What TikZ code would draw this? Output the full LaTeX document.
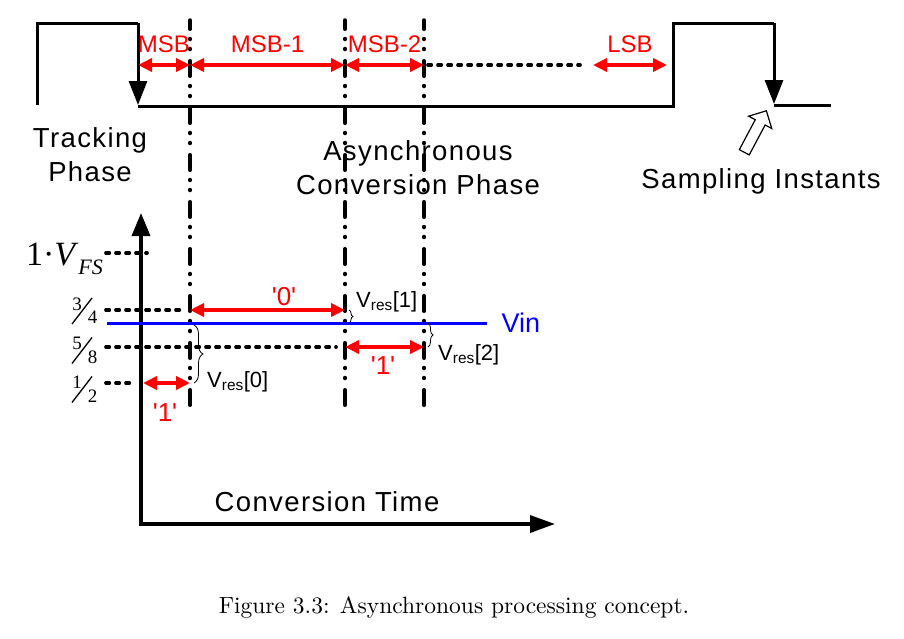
\documentclass[tikz,border=0pt]{standalone}
\usepackage{fontspec}
\newfontfamily\diagfont[LetterSpace=5]{Liberation Sans}
\newfontfamily\plainfont{Liberation Sans}
\newfontfamily\timesfont{Liberation Serif}
\newfontfamily\capfont{lmroman10-regular.otf}
\usetikzlibrary{arrows.meta, positioning, decorations.pathreplacing, shapes.arrows}

\tikzset{
  wave/.style={line width=3pt, line join=miter},
  fall/.style={-{Triangle[length=24pt,width=18pt]}},
  axis/.style={line width=3.5pt, line join=miter, {Triangle[length=23pt,width=18pt]}-{Triangle[length=25pt,width=17pt]}},
  slot/.style={line width=3.5pt, red, {Triangle[length=14pt,width=13pt]}-{Triangle[length=14pt,width=13pt]}},
  level/.style={line width=3.7pt, line cap=round, dash pattern=on 3.3pt off 6.7pt},
  bitline/.style={line width=3.5pt, line cap=round, dash pattern=on 15.5pt off 9.25pt on 1pt off 9pt on 1pt off 11.25pt, dash phase=6.25pt},
  lbl/.style={font=\diagfont\fontsize{27.5}{34}\selectfont, align=center, inner sep=0pt},
  bitlbl/.style={red, font=\plainfont\fontsize{24}{28}\selectfont, inner sep=0pt},
  res/.style={font=\plainfont\fontsize{22}{26}\selectfont, inner sep=0pt, anchor=west},
  resbrace/.style={decorate, decoration={brace, amplitude=#1}, line width=0.8pt},
  fracdigit/.style={font=\timesfont\fontsize{19}{19}\selectfont, inner sep=0pt},
}

% level fraction: centre y, numerator, denominator
\newcommand{\levelfrac}[3]{%
  \node[fracdigit] at (77,#1-6.5) {#2};
  \node[fracdigit] at (92.5,#1+7) {#3};
  \draw[line width=1.3pt] (72,#1+13.5) -- (92,#1-12.5);
}

\begin{document}
\begin{tikzpicture}[x=1pt, y=-1pt]
\useasboundingbox (0,0) rectangle (904,638);

% sampling clock
\coordinate (fall1) at (138,105);
\coordinate (fall2) at (774,104);
\draw[wave] (37,105) -- (37,23) -- (138,23);
\draw[wave, fall] (138,23) -- (fall1);
\draw[wave] (138,106) -- (673,106) -- (673,23) -- (774,23);
\draw[wave, fall] (774,23) -- (fall2);
\draw[wave] (774,105) -- (831,105);

% bit decision instants
\foreach \x/\n in {190/1, 345/2, 424/3}
  \draw[bitline] (\x,20) -- (\x,410);

% bit cycles
\coordinate (b0) at (138,65);
\coordinate (b1) at (190,65);
\coordinate (b2) at (345,65);
\coordinate (b3) at (424,65);
\coordinate (b4) at (580,65);
\coordinate (b5) at (593,65);
\coordinate (b6) at (667,65);
\draw[slot] (b0) -- (b1) node[bitlbl, midway, above=11pt] {MSB};
\draw[slot] (b1) -- (b2) node[bitlbl, midway, above=11pt] {MSB-1};
\draw[slot] (b2) -- (b3) node[bitlbl, midway, above=11pt] {MSB-2};
\draw[level] ([xshift=4pt]b3) -- (b4);
\draw[slot] (b5) -- (b6) node[bitlbl, midway, above=11pt] {LSB};

\node[lbl] (track) at (90,155) {Tracking\\Phase};
\node[lbl] (async) at (418,168) {Asynchronous\\Conversion Phase};
\node[lbl] (samp) at (761,181) {Sampling Instants};
\node[single arrow, draw, line width=1.2pt, fill=white, minimum height=47pt,
  single arrow head extend=7.5pt, inner xsep=0pt, inner ysep=5pt,
  rotate=62] (samparrow) at (754,134) {};

% voltage axes
\coordinate (O) at (141,524);
\draw[axis] (141,213) -- (O) -- (555,524);
\node[lbl] (ctime) at (327,502) {Conversion Time};

% reference levels
\draw[level] (106,253) -- (147,253);
\draw[level] (106,310) -- (182,310);
\draw[level] (106,347) -- (336,347);
\draw[level] (106,383) -- (135,383);
\node[font=\timesfont\fontsize{34}{34}\selectfont, inner sep=0pt, anchor=base east] (vfs) at (103,265)
  {1·\textit{V}\raisebox{-9pt}{\fontsize{22}{22}\selectfont\textit{FS}}};
\levelfrac{310.5}{3}{4}
\levelfrac{350}{5}{8}
\levelfrac{389}{1}{2}

% input
\draw[blue, line width=3pt] (107,323) -- (487,323)
  node[right=13pt, inner sep=0pt, font=\plainfont\fontsize{27}{30}\selectfont] (vin) {Vin};

% decisions
\draw[slot] (190,310) -- (345,310);
\node[bitlbl, font=\plainfont\fontsize{26}{30}\selectfont] (d1) at (284,297) {\textquotesingle 0\textquotesingle};
\draw[slot] (143,383) -- (190,383);
\node[bitlbl, font=\plainfont\fontsize{26}{30}\selectfont] (d0) at (165,413) {\textquotesingle 1\textquotesingle};
\draw[slot] (345,347) -- (424,347);
\node[bitlbl, font=\plainfont\fontsize{26}{30}\selectfont] (d2) at (383,366) {\textquotesingle 1\textquotesingle};

% residues
\draw[resbrace=9pt] (194,325) -- (194,383);
\node[res] (r0) at (207,382) {V\textsubscript{res}[0]};
\draw[resbrace=4pt] (349,310) -- (349,323);
\node[res] (r1) at (356,302) {V\textsubscript{res}[1]};
\draw[resbrace=5pt] (428,323) -- (428,347);
\node[res] (r2) at (438,355) {V\textsubscript{res}[2]};

\node[font=\capfont\fontsize{23.5}{26}\selectfont] (cap) at (454,607) {Figure 3.3: Asynchronous processing concept.};
\end{tikzpicture}
\end{document}
